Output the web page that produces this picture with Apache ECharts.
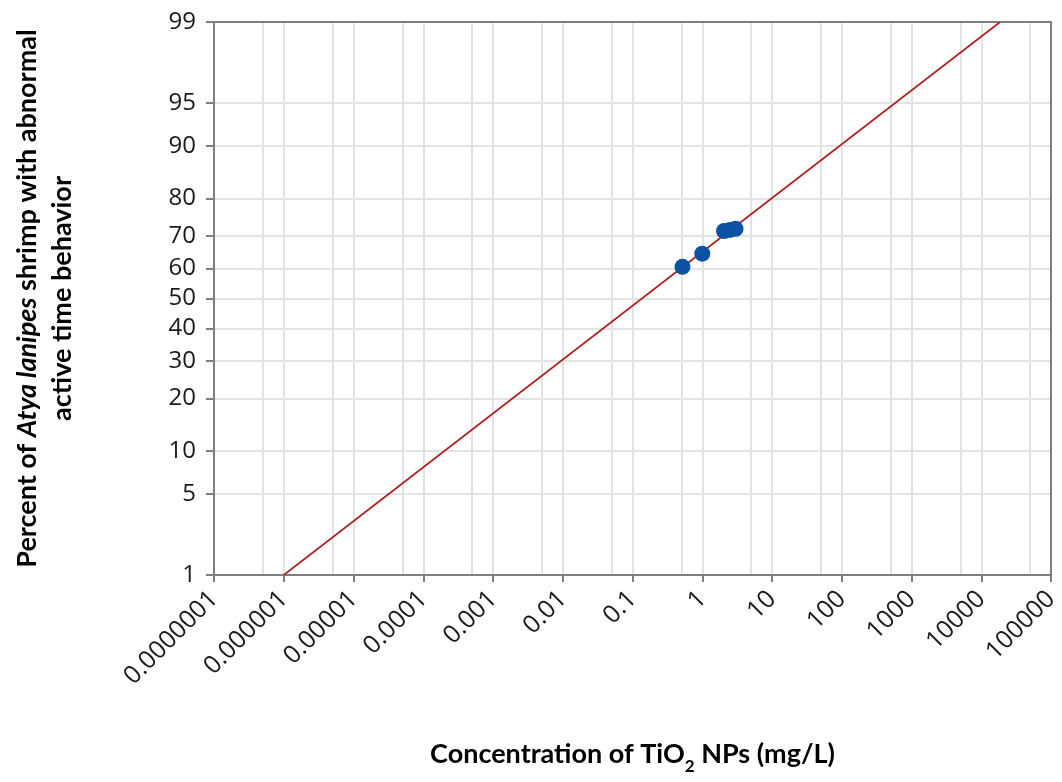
<!DOCTYPE html>
<html><head><meta charset="utf-8">
<script src="https://cdn.jsdelivr.net/npm/echarts@6/dist/echarts.min.js"></script>
<style>html,body{margin:0;padding:0;background:#fff}#chart{width:1062px;height:782px}</style>
</head><body><div id="chart"></div>
<script>
// ---- data ----
const xTickValues = [0.0000001, 0.000001, 0.00001, 0.0001, 0.001, 0.01, 0.1, 1, 10, 100, 1000, 10000, 100000];
const xTickLabels = ['0.0000001', '0.000001', '0.00001', '0.0001', '0.001', '0.01', '0.1', '1', '10', '100', '1000', '10000', '100000'];
const xMinorGridValues = [0.0000005, 0.000005, 0.00005, 0.0005, 0.005, 0.05, 0.5, 5, 50, 500, 5000, 50000];
const yTickPercents = [1, 5, 10, 20, 30, 40, 50, 60, 70, 80, 90, 95, 99];
const pointConc = [0.52, 1.0, 2.05, 2.5, 3.0];
const pointPercent = [60.5, 64.7, 71.5, 71.8, 72.1];
const fitConc = [0.000001, 18600];
const fitPercent = [1, 99];

// ---- probit (inverse normal CDF) transform for a probability axis ----
function probit(p) {
  const a = [-3.969683028665376e+01, 2.209460984245205e+02, -2.759285104469687e+02, 1.383577518672690e+02, -3.066479806614716e+01, 2.506628277459239e+00];
  const b = [-5.447609879822406e+01, 1.615858368580409e+02, -1.556989798598866e+02, 6.680131188771972e+01, -1.328068155288572e+01];
  const c = [-7.784894002430293e-03, -3.223964580411365e-01, -2.400758277161838e+00, -2.549732539343734e+00, 4.374587099085432e+00, 2.938163982698783e+00];
  const d = [7.784695709041462e-03, 3.224671290700398e-01, 2.445134137142996e+00, 3.754408661907416e+00];
  const pl = 0.02425, ph = 1 - pl; let q, r;
  if (p < pl) { q = Math.sqrt(-2 * Math.log(p)); return (((((c[0]*q+c[1])*q+c[2])*q+c[3])*q+c[4])*q+c[5])/((((d[0]*q+d[1])*q+d[2])*q+d[3])*q+1); }
  if (p <= ph) { q = p - 0.5; r = q*q; return (((((a[0]*r+a[1])*r+a[2])*r+a[3])*r+a[4])*r+a[5])*q/(((((b[0]*r+b[1])*r+b[2])*r+b[3])*r+b[4])*r+1); }
  q = Math.sqrt(-2 * Math.log(1 - p)); return -(((((c[0]*q+c[1])*q+c[2])*q+c[3])*q+c[4])*q+c[5])/((((d[0]*q+d[1])*q+d[2])*q+d[3])*q+1);
}
const lg = v => Math.log10(v);
const pz = pct => probit(pct / 100);

const xTickLogs = xTickValues.map(lg);
const xGridLogs = xTickLogs.concat(xMinorGridValues.map(lg));
const yTickZ = yTickPercents.map(pz);
const xMin = xTickLogs[0], xMax = xTickLogs[xTickLogs.length - 1];
const yMin = pz(yTickPercents[0]), yMax = pz(yTickPercents[yTickPercents.length - 1]);

function nearestIdx(arr, v) { let bi = 0, bd = Infinity; arr.forEach((a, i) => { const dd = Math.abs(a - v); if (dd < bd) { bd = dd; bi = i; } }); return bi; }

const AXIS = '#7f7f7f', GRID = '#e3e3e3', TXT = '#1a1a1a';
const FONT = 'Open Sans';

const chart = echarts.init(document.getElementById('chart'), null, { renderer: 'canvas' });
chart.setOption({
  backgroundColor: '#fff',
  animation: false,
  grid: { left: 214, right: 10, top: 22, bottom: 207, containLabel: false },
  xAxis: [{
    type: 'value', min: xMin, max: xMax, position: 'bottom',
    axisLine: { show: true, onZero: false, lineStyle: { color: AXIS, width: 2 } },
    axisTick: { show: true, length: 7, lineStyle: { color: AXIS, width: 2 }, customValues: xTickLogs },
    axisLabel: { show: true, customValues: xTickLogs, rotate: 45, margin: 20, fontSize: 25, color: TXT, fontFamily: FONT,
      formatter: v => xTickLabels[nearestIdx(xTickLogs, v)] },
    splitLine: { show: false },
    name: '{b|Concentration of TiO}{s|2}{b| NPs (mg/L)}',
    nameLocation: 'middle', nameGap: 166,
    nameTextStyle: { rich: {
      b: { fontSize: 27, fontWeight: 'bold', fontFamily: 'Lato', color: '#000', verticalAlign: 'top', lineHeight: 34 },
      s: { fontSize: 17, fontWeight: 'bold', fontFamily: 'Lato', color: '#000', verticalAlign: 'bottom', lineHeight: 34, padding: [14, 0, 0, 0] }
    } }
  }, {
    type: 'value', min: xMin, max: xMax, position: 'top',
    axisLine: { show: true, onZero: false, lineStyle: { color: AXIS, width: 2 } },
    axisTick: { show: false, customValues: xGridLogs },
    axisLabel: { show: false },
    splitLine: { show: true, lineStyle: { color: GRID, width: 2 } }
  }],
  yAxis: [{
    type: 'value', min: yMin, max: yMax, position: 'left',
    axisLine: { show: true, onZero: false, lineStyle: { color: AXIS, width: 2 } },
    axisTick: { show: true, length: 8, lineStyle: { color: AXIS, width: 2 }, customValues: yTickZ },
    axisLabel: { show: true, customValues: yTickZ, margin: 18, fontSize: 24, color: TXT, fontFamily: FONT,
      formatter: v => String(yTickPercents[nearestIdx(yTickZ, v)]) },
    splitLine: { show: true, lineStyle: { color: GRID, width: 2 } },
    name: '{b|Percent of }{i|Atya lanipes}{b| shrimp with abnormal}\n{b|active time behavior}',
    nameLocation: 'middle', nameRotate: 90, nameGap: 134,
    nameTextStyle: { align: 'center', rich: {
      b: { fontSize: 27, fontWeight: 'bold', fontFamily: 'Lato', color: '#000', lineHeight: 35, align: 'center' },
      i: { fontSize: 27, fontWeight: 'bold', fontStyle: 'italic', fontFamily: 'Lato', color: '#000', lineHeight: 35, align: 'center' }
    } }
  }, {
    type: 'value', min: yMin, max: yMax, position: 'right',
    axisLine: { show: true, onZero: false, lineStyle: { color: AXIS, width: 2 } },
    axisTick: { show: false }, axisLabel: { show: false }, splitLine: { show: false }
  }],
  series: [{
    type: 'line', xAxisIndex: 0, yAxisIndex: 0,
    data: fitConc.map((c, i) => [lg(c), pz(fitPercent[i])]),
    showSymbol: false, symbol: 'none',
    lineStyle: { color: '#b01e1e', width: 1.6 }, z: 3
  }, {
    type: 'scatter', xAxisIndex: 0, yAxisIndex: 0,
    data: pointConc.map((c, i) => [lg(c), pz(pointPercent[i])]),
    symbol: 'circle', symbolSize: 16,
    itemStyle: { color: '#0b52a3', opacity: 1 }, z: 4
  }]
});
</script></body></html>
